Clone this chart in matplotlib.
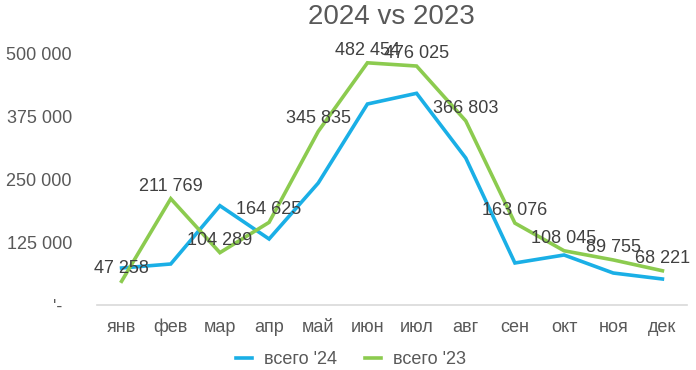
import matplotlib
matplotlib.use("Agg")
import matplotlib.pyplot as plt

months = ["янв", "фев", "мар", "апр", "май", "июн", "июл", "авг", "сен", "окт", "ноя", "дек"]
vals_2024 = [73700, 81700, 197800, 131500, 243000, 400400, 421700, 292800, 83700, 99600, 63700, 51800]
vals_2023 = [47258, 211769, 104289, 164625, 345835, 482454, 476025, 366803, 163076, 108045, 89755, 68221]
label_2023 = ["47 258", "211 769", "104 289", "164 625", "345 835", "482 454",
              "476 025", "366 803", "163 076", "108 045", "89 755", "68 221"]
yticks = [0, 125000, 250000, 375000, 500000]
ytick_labels = ["'-  ", "125 000", "250 000", "375 000", "500 000"]

plt.rcParams['font.family'] = ['Liberation Sans', 'DejaVu Sans']

fig = plt.figure(figsize=(6.96, 3.70), dpi=100)
ax = fig.add_axes([97/696, 65/370, 590/696, 251/370])

blue = "#1AAFE6"
green = "#8CCB4F"
x = list(range(len(months)))
ax.plot(x, vals_2024, color=blue, lw=2.6, label="всего '24", solid_joinstyle='miter')
ax.plot(x, vals_2023, color=green, lw=2.6, label="всего '23", solid_joinstyle='miter')

for xi, v, t in zip(x, vals_2023, label_2023):
    ax.annotate(t, (xi, v), xytext=(0, 9), textcoords='offset points',
                ha='center', va='center', fontsize=13, color='#404040',
                annotation_clip=False)

ax.set_xlim(-0.5, 11.5)
ax.set_ylim(0, 500000)
ax.set_xticks(x)
ax.set_xticklabels(months)
ax.set_yticks(yticks)
ax.set_yticklabels(ytick_labels)
ax.tick_params(axis='both', length=0, labelsize=13, labelcolor='#595959')
ax.tick_params(axis='y', pad=18)
ax.tick_params(axis='x', pad=10)

for s in ['top', 'right', 'left']:
    ax.spines[s].set_visible(False)
ax.spines['bottom'].set_color('#D9D9D9')
ax.spines['bottom'].set_linewidth(1.2)

fig.text(391/696, 1 - 17/370, "2024 vs 2023", ha='center', va='center',
         fontsize=20, color='#595959')

leg = fig.legend(loc='center', bbox_to_anchor=(351/696, 1 - 360/370), ncol=2,
                 frameon=False, fontsize=13, handlelength=0.9, columnspacing=1.55,
                 handletextpad=0.65)
for t in leg.get_texts():
    t.set_color('#595959')

fig.savefig("out.png", dpi=100)
